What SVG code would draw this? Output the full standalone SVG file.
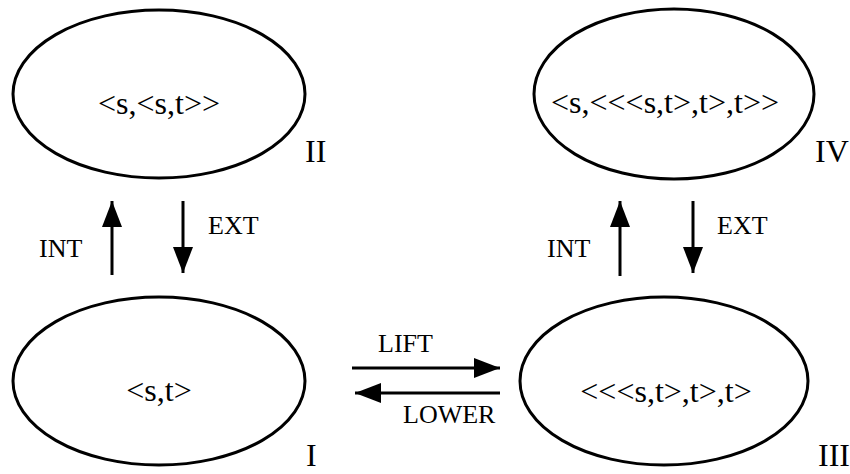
<svg xmlns="http://www.w3.org/2000/svg" width="850" height="474" viewBox="0 0 850 474">
<style>
  .node { fill: none; stroke: #000; stroke-width: 3; }
  .lbl { font-family: "Liberation Serif", "Times New Roman", serif; font-size: 32px; fill: #000; }
  .num { font-family: "Liberation Serif", "Times New Roman", serif; font-size: 32px; fill: #000; }
  .elbl { font-family: "Liberation Serif", "Times New Roman", serif; font-size: 26px; fill: #000; }
  .edge { stroke: #000; stroke-width: 3; fill: none; marker-end: url(#head); }
</style>
<defs>
  <marker id="head" viewBox="0 0 26 20" refX="26" refY="10" markerWidth="26" markerHeight="20" markerUnits="userSpaceOnUse" orient="auto">
    <path d="M0,0 L26,10 L0,20 Z" fill="#000"/>
  </marker>
</defs>
<rect width="850" height="474" fill="#fff"/>
<g id="node-II">
  <ellipse class="node" cx="159" cy="94" rx="146" ry="84"/>
  <text class="lbl" x="159" y="114" text-anchor="middle">&lt;s,&lt;s,t&gt;&gt;</text>
  <text class="num" x="305" y="162">II</text>
</g>
<g id="node-IV">
  <ellipse class="node" cx="674" cy="94" rx="140" ry="85"/>
  <text class="lbl" x="665" y="113" text-anchor="middle">&lt;s,&lt;&lt;&lt;s,t&gt;,t&gt;,t&gt;&gt;</text>
  <text class="num" x="815" y="162">IV</text>
</g>
<g id="node-I">
  <ellipse class="node" cx="159" cy="381" rx="146" ry="84"/>
  <text class="lbl" x="159" y="401" text-anchor="middle">&lt;s,t&gt;</text>
  <text class="num" x="306" y="466">I</text>
</g>
<g id="node-III">
  <ellipse class="node" cx="664" cy="381" rx="144" ry="84"/>
  <text class="lbl" x="666" y="402" text-anchor="middle">&lt;&lt;&lt;s,t&gt;,t&gt;,t&gt;</text>
  <text class="num" x="818" y="466">III</text>
</g>
<g id="connectors">
  <line class="edge" x1="112" y1="275" x2="112" y2="201"/>
  <line class="edge" x1="183" y1="201" x2="183" y2="273"/>
  <line class="edge" x1="620" y1="276" x2="620" y2="201"/>
  <line class="edge" x1="693" y1="201" x2="693" y2="273"/>
  <line class="edge" x1="352" y1="368" x2="500" y2="368"/>
  <line class="edge" x1="500" y1="393" x2="355" y2="393"/>
  <text class="elbl" x="39" y="257">INT</text>
  <text class="elbl" x="208" y="234">EXT</text>
  <text class="elbl" x="547" y="257">INT</text>
  <text class="elbl" x="717" y="234">EXT</text>
  <text class="elbl" x="378" y="352">LIFT</text>
  <text class="elbl" x="403" y="423">LOWER</text>
</g>
</svg>
